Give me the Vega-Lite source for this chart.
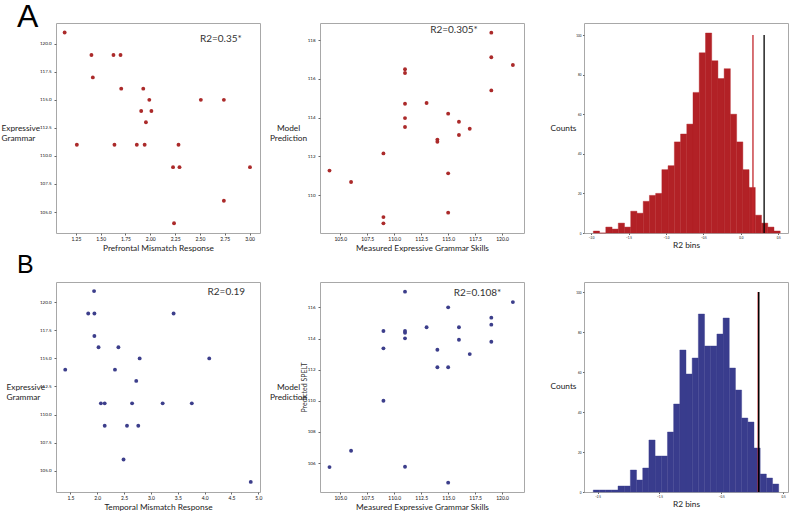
{
  "$schema": "https://vega.github.io/schema/vega-lite/v6.json",
  "background": "white",
  "padding": {"left": 0, "top": 0, "right": 0, "bottom": 0},
  "columns": 3,
  "bounds": "flush",
  "spacing": {"row": 49, "column": 60},
  "config": {
    "font": "Lato",
    "view": {"stroke": "#a8a8a8", "strokeWidth": 1},
    "axis": {"grid": false, "domain": false, "tickColor": "#666", "tickSize": 2, "labelFontSize": 5, "labelColor": "#111", "labelPadding": 1.5, "labelFont": "Lato", "titleFont": "Lato", "titleFontSize": 8.3, "titleFontWeight": "normal", "titleColor": "#222", "titlePadding": 1.5}
  },
  "datasets": {
    "a_prefrontal": [
      {"mismatch_response": 1.137, "expressive_grammar": 121},
      {"mismatch_response": 1.407, "expressive_grammar": 119},
      {"mismatch_response": 1.629, "expressive_grammar": 119},
      {"mismatch_response": 1.700, "expressive_grammar": 119},
      {"mismatch_response": 1.421, "expressive_grammar": 117},
      {"mismatch_response": 1.707, "expressive_grammar": 116},
      {"mismatch_response": 1.929, "expressive_grammar": 116},
      {"mismatch_response": 1.990, "expressive_grammar": 115},
      {"mismatch_response": 2.509, "expressive_grammar": 115},
      {"mismatch_response": 2.741, "expressive_grammar": 115},
      {"mismatch_response": 1.908, "expressive_grammar": 114},
      {"mismatch_response": 2.011, "expressive_grammar": 114},
      {"mismatch_response": 1.956, "expressive_grammar": 113},
      {"mismatch_response": 1.260, "expressive_grammar": 111},
      {"mismatch_response": 1.639, "expressive_grammar": 111},
      {"mismatch_response": 1.864, "expressive_grammar": 111},
      {"mismatch_response": 1.943, "expressive_grammar": 111},
      {"mismatch_response": 2.284, "expressive_grammar": 111},
      {"mismatch_response": 2.229, "expressive_grammar": 109},
      {"mismatch_response": 2.294, "expressive_grammar": 109},
      {"mismatch_response": 3.004, "expressive_grammar": 109},
      {"mismatch_response": 2.741, "expressive_grammar": 106},
      {"mismatch_response": 2.239, "expressive_grammar": 104}
    ],
    "a_prefrontal_note": [{"mismatch_response": 2.50, "expressive_grammar": 120.45, "label": "R2=0.35*"}],
    "b_temporal": [
      {"mismatch_response": 1.941, "expressive_grammar": 121},
      {"mismatch_response": 1.832, "expressive_grammar": 119},
      {"mismatch_response": 1.947, "expressive_grammar": 119},
      {"mismatch_response": 3.422, "expressive_grammar": 119},
      {"mismatch_response": 1.947, "expressive_grammar": 117},
      {"mismatch_response": 2.024, "expressive_grammar": 116},
      {"mismatch_response": 2.394, "expressive_grammar": 116},
      {"mismatch_response": 2.790, "expressive_grammar": 115},
      {"mismatch_response": 4.086, "expressive_grammar": 115},
      {"mismatch_response": 1.404, "expressive_grammar": 114},
      {"mismatch_response": 2.330, "expressive_grammar": 114},
      {"mismatch_response": 2.726, "expressive_grammar": 113},
      {"mismatch_response": 2.068, "expressive_grammar": 111},
      {"mismatch_response": 2.139, "expressive_grammar": 111},
      {"mismatch_response": 2.649, "expressive_grammar": 111},
      {"mismatch_response": 3.218, "expressive_grammar": 111},
      {"mismatch_response": 3.761, "expressive_grammar": 111},
      {"mismatch_response": 2.139, "expressive_grammar": 109},
      {"mismatch_response": 2.554, "expressive_grammar": 109},
      {"mismatch_response": 2.764, "expressive_grammar": 109},
      {"mismatch_response": 2.490, "expressive_grammar": 106},
      {"mismatch_response": 4.859, "expressive_grammar": 104}
    ],
    "b_temporal_note": [{"mismatch_response": 4.054, "expressive_grammar": 120.89, "label": "R2=0.19"}],
    "a_model": [
      {"measured": 104, "predicted": 111.26},
      {"measured": 106, "predicted": 110.67},
      {"measured": 109, "predicted": 112.15},
      {"measured": 109, "predicted": 108.86},
      {"measured": 109, "predicted": 108.54},
      {"measured": 111, "predicted": 116.49},
      {"measured": 111, "predicted": 116.30},
      {"measured": 111, "predicted": 114.71},
      {"measured": 111, "predicted": 113.97},
      {"measured": 111, "predicted": 113.51},
      {"measured": 113, "predicted": 114.75},
      {"measured": 114, "predicted": 112.86},
      {"measured": 114, "predicted": 112.75},
      {"measured": 115, "predicted": 114.20},
      {"measured": 115, "predicted": 111.12},
      {"measured": 115, "predicted": 109.09},
      {"measured": 116, "predicted": 113.78},
      {"measured": 116, "predicted": 113.10},
      {"measured": 117, "predicted": 113.42},
      {"measured": 119, "predicted": 118.38},
      {"measured": 119, "predicted": 117.11},
      {"measured": 119, "predicted": 115.40},
      {"measured": 121, "predicted": 116.71}
    ],
    "a_model_note": [{"measured": 113.33, "predicted": 118.5, "label": "R2=0.305*"}],
    "b_model": [
      {"measured": 104, "predicted": 105.74},
      {"measured": 106, "predicted": 106.79},
      {"measured": 109, "predicted": 114.48},
      {"measured": 109, "predicted": 113.37},
      {"measured": 109, "predicted": 110.00},
      {"measured": 111, "predicted": 117.01},
      {"measured": 111, "predicted": 114.48},
      {"measured": 111, "predicted": 114.37},
      {"measured": 111, "predicted": 114.01},
      {"measured": 111, "predicted": 105.76},
      {"measured": 113, "predicted": 114.72},
      {"measured": 114, "predicted": 113.28},
      {"measured": 114, "predicted": 112.15},
      {"measured": 115, "predicted": 116.00},
      {"measured": 115, "predicted": 112.15},
      {"measured": 115, "predicted": 104.74},
      {"measured": 116, "predicted": 114.72},
      {"measured": 116, "predicted": 113.92},
      {"measured": 117, "predicted": 113.00},
      {"measured": 119, "predicted": 115.34},
      {"measured": 119, "predicted": 114.89},
      {"measured": 119, "predicted": 113.79},
      {"measured": 121, "predicted": 116.34}
    ],
    "b_model_note": [{"measured": 115.51, "predicted": 116.92, "label": "R2=0.108*"}],
    "a_hist": [
      {"bin_start": -1.970, "bin_end": -1.887, "count": 1},
      {"bin_start": -1.887, "bin_end": -1.804, "count": 0},
      {"bin_start": -1.804, "bin_end": -1.720, "count": 3},
      {"bin_start": -1.720, "bin_end": -1.637, "count": 2},
      {"bin_start": -1.637, "bin_end": -1.554, "count": 5},
      {"bin_start": -1.554, "bin_end": -1.471, "count": 3},
      {"bin_start": -1.471, "bin_end": -1.388, "count": 11},
      {"bin_start": -1.388, "bin_end": -1.304, "count": 10},
      {"bin_start": -1.304, "bin_end": -1.221, "count": 16},
      {"bin_start": -1.221, "bin_end": -1.138, "count": 19},
      {"bin_start": -1.138, "bin_end": -1.055, "count": 20},
      {"bin_start": -1.055, "bin_end": -0.972, "count": 32},
      {"bin_start": -0.972, "bin_end": -0.888, "count": 34},
      {"bin_start": -0.888, "bin_end": -0.805, "count": 46},
      {"bin_start": -0.805, "bin_end": -0.722, "count": 50},
      {"bin_start": -0.722, "bin_end": -0.639, "count": 55},
      {"bin_start": -0.639, "bin_end": -0.556, "count": 71},
      {"bin_start": -0.556, "bin_end": -0.472, "count": 91},
      {"bin_start": -0.472, "bin_end": -0.389, "count": 101},
      {"bin_start": -0.389, "bin_end": -0.306, "count": 87},
      {"bin_start": -0.306, "bin_end": -0.223, "count": 78},
      {"bin_start": -0.223, "bin_end": -0.140, "count": 83},
      {"bin_start": -0.140, "bin_end": -0.056, "count": 60},
      {"bin_start": -0.056, "bin_end": 0.027, "count": 46},
      {"bin_start": 0.027, "bin_end": 0.110, "count": 32},
      {"bin_start": 0.110, "bin_end": 0.193, "count": 23},
      {"bin_start": 0.193, "bin_end": 0.276, "count": 9},
      {"bin_start": 0.276, "bin_end": 0.360, "count": 5},
      {"bin_start": 0.360, "bin_end": 0.443, "count": 3},
      {"bin_start": 0.443, "bin_end": 0.526, "count": 1}
    ],
    "a_lines": [{"kind": "threshold", "r2": 0.162}, {"kind": "observed", "r2": 0.311}],
    "b_hist": [
      {"bin_start": -2.57, "bin_end": -2.47, "count": 1},
      {"bin_start": -2.47, "bin_end": -2.37, "count": 1},
      {"bin_start": -2.37, "bin_end": -2.27, "count": 1},
      {"bin_start": -2.27, "bin_end": -2.17, "count": 1},
      {"bin_start": -2.17, "bin_end": -2.07, "count": 3},
      {"bin_start": -2.07, "bin_end": -1.97, "count": 3},
      {"bin_start": -1.97, "bin_end": -1.87, "count": 11},
      {"bin_start": -1.87, "bin_end": -1.77, "count": 6},
      {"bin_start": -1.77, "bin_end": -1.67, "count": 12},
      {"bin_start": -1.67, "bin_end": -1.57, "count": 26},
      {"bin_start": -1.57, "bin_end": -1.47, "count": 18},
      {"bin_start": -1.47, "bin_end": -1.37, "count": 18},
      {"bin_start": -1.37, "bin_end": -1.27, "count": 30},
      {"bin_start": -1.27, "bin_end": -1.17, "count": 44},
      {"bin_start": -1.17, "bin_end": -1.07, "count": 71},
      {"bin_start": -1.07, "bin_end": -0.97, "count": 59},
      {"bin_start": -0.97, "bin_end": -0.87, "count": 67},
      {"bin_start": -0.87, "bin_end": -0.77, "count": 89},
      {"bin_start": -0.77, "bin_end": -0.67, "count": 73},
      {"bin_start": -0.67, "bin_end": -0.57, "count": 73},
      {"bin_start": -0.57, "bin_end": -0.47, "count": 79},
      {"bin_start": -0.47, "bin_end": -0.37, "count": 87},
      {"bin_start": -0.37, "bin_end": -0.27, "count": 62},
      {"bin_start": -0.27, "bin_end": -0.17, "count": 51},
      {"bin_start": -0.17, "bin_end": -0.07, "count": 37},
      {"bin_start": -0.07, "bin_end": 0.03, "count": 35},
      {"bin_start": 0.03, "bin_end": 0.13, "count": 22},
      {"bin_start": 0.13, "bin_end": 0.23, "count": 9},
      {"bin_start": 0.23, "bin_end": 0.33, "count": 7},
      {"bin_start": 0.33, "bin_end": 0.43, "count": 4}
    ],
    "b_lines": [{"kind": "threshold", "r2": 0.099}, {"kind": "observed", "r2": 0.107}]
  },
  "concat": [
    {
      "width": 204, "height": 210,
      "title": {"text": "A", "fontSize": 32, "font": "Liberation Sans", "fontWeight": "normal", "color": "#000", "anchor": "start", "frame": "group", "dx": -39, "offset": -36, "baseline": "alphabetic"},
      "encoding": {
        "x": {"field": "mismatch_response", "type": "quantitative", "scale": {"domain": [1.05, 3.105], "nice": false, "zero": false},
              "axis": {"title": "Prefrontal Mismatch Response", "values": [1.25, 1.5, 1.75, 2.0, 2.25, 2.5, 2.75, 3.0], "format": ".2f"}},
        "y": {"field": "expressive_grammar", "type": "quantitative", "scale": {"domain": [103.13, 121.85], "nice": false, "zero": false},
              "axis": {"title": ["Expressive", "Grammar"], "values": [105, 107.5, 110, 112.5, 115, 117.5, 120], "format": ".1f", "labelFontSize": 4.5, "labelPadding": 3, "titleAngle": 0, "titleAlign": "left", "titleBaseline": "middle", "titleX": -55, "titleY": 105, "titleLineHeight": 10}}
      },
      "layer": [
        {"data": {"name": "a_prefrontal"}, "mark": {"type": "circle", "size": 15, "color": "#ab2a2a", "opacity": 1}},
        {"data": {"name": "a_prefrontal_note"}, "mark": {"type": "text", "align": "left", "baseline": "middle", "fontSize": 10, "color": "#333"}, "encoding": {"text": {"field": "label"}}}
      ]
    },
    {
      "width": 204, "height": 210,
      "encoding": {
        "x": {"field": "measured", "type": "quantitative", "scale": {"domain": [103.12, 122.03], "nice": false, "zero": false},
              "axis": {"title": "Measured Expressive Grammar Skills", "values": [105, 107.5, 110, 112.5, 115, 117.5, 120], "format": ".1f"}},
        "y": {"field": "predicted", "type": "quantitative", "scale": {"domain": [108.04, 118.88], "nice": false, "zero": false},
              "axis": {"title": ["Model", "Prediction"], "values": [110, 112, 114, 116, 118], "format": "d", "labelFontSize": 4.5, "labelPadding": 3, "titleAngle": 0, "titleAlign": "center", "titleBaseline": "middle", "titleX": -32, "titleY": 105, "titleLineHeight": 10}}
      },
      "layer": [
        {"data": {"name": "a_model"}, "mark": {"type": "circle", "size": 15, "color": "#ab2a2a", "opacity": 1}},
        {"data": {"name": "a_model_note"}, "mark": {"type": "text", "align": "left", "baseline": "middle", "fontSize": 10, "color": "#333"}, "encoding": {"text": {"field": "label"}}}
      ]
    },
    {
      "width": 204, "height": 210,
      "layer": [
        {"data": {"name": "a_hist"}, "mark": {"type": "bar", "color": "#b22126", "binSpacing": 0, "stroke": "#b22126", "strokeWidth": 0.4},
         "encoding": {
           "x": {"field": "bin_start", "type": "quantitative", "scale": {"domain": [-2.095, 0.63], "nice": false, "zero": false},
                 "axis": {"title": "R2 bins", "values": [-2.0, -1.5, -1.0, -0.5, 0.0, 0.5], "format": ".1f", "labelFontSize": 3, "tickSize": 1.5}},
           "x2": {"field": "bin_end"},
           "y": {"field": "count", "type": "quantitative", "scale": {"domain": [0, 106.05], "nice": false},
                 "axis": {"title": "Counts", "values": [0, 20, 40, 60, 80, 100], "labelFontSize": 3, "tickSize": 1.5, "titleAngle": 0, "titleAlign": "center", "titleBaseline": "middle", "titleX": -21, "titleY": 105}},
           "y2": {"datum": 0}
         }},
        {"data": {"name": "a_lines"}, "mark": {"type": "rule", "strokeWidth": 1.3},
         "encoding": {
           "x": {"field": "r2", "type": "quantitative", "axis": {"title": "R2 bins"}},
           "y": {"datum": 0},
           "y2": {"datum": 100},
           "color": {"field": "kind", "type": "nominal", "scale": {"domain": ["threshold", "observed"], "range": ["#c2272d", "#000000"]}, "legend": null}
         }}
      ]
    },
    {
      "width": 204, "height": 210,
      "title": {"text": "B", "fontSize": 25, "font": "Liberation Sans", "fontWeight": "normal", "color": "#000", "anchor": "start", "frame": "group", "dx": -39, "offset": -16, "baseline": "alphabetic"},
      "encoding": {
        "x": {"field": "mismatch_response", "type": "quantitative", "scale": {"domain": [1.232, 5.031], "nice": false, "zero": false},
              "axis": {"title": "Temporal Mismatch Response", "values": [1.5, 2.0, 2.5, 3.0, 3.5, 4.0, 4.5, 5.0], "format": ".1f"}},
        "y": {"field": "expressive_grammar", "type": "quantitative", "scale": {"domain": [103.1, 121.81], "nice": false, "zero": false},
              "axis": {"title": ["Expressive", "Grammar"], "values": [105, 107.5, 110, 112.5, 115, 117.5, 120], "format": ".1f", "labelFontSize": 4.5, "labelPadding": 3, "titleAngle": 0, "titleAlign": "left", "titleBaseline": "middle", "titleX": -50, "titleY": 105, "titleLineHeight": 10}}
      },
      "layer": [
        {"data": {"name": "b_temporal"}, "mark": {"type": "circle", "size": 15, "color": "#3c3e8b", "opacity": 1}},
        {"data": {"name": "b_temporal_note"}, "mark": {"type": "text", "align": "left", "baseline": "middle", "fontSize": 10, "color": "#333"}, "encoding": {"text": {"field": "label"}}}
      ]
    },
    {
      "width": 204, "height": 210,
      "resolve": {"axis": {"y": "independent"}},
      "encoding": {
        "x": {"field": "measured", "type": "quantitative", "scale": {"domain": [103.12, 122.03], "nice": false, "zero": false},
              "axis": {"title": "Measured Expressive Grammar Skills", "values": [105, 107.5, 110, 112.5, 115, 117.5, 120], "format": ".1f"}}
      },
      "layer": [
        {"data": {"name": "b_model"}, "mark": {"type": "circle", "size": 15, "color": "#3c3e8b", "opacity": 1},
         "encoding": {
           "y": {"field": "predicted", "type": "quantitative", "scale": {"domain": [104.14, 117.63], "nice": false, "zero": false},
                 "axis": {"title": ["Model", "Prediction"], "values": [106, 108, 110, 112, 114, 116], "format": "d", "labelFontSize": 4.5, "labelPadding": 3, "titleAngle": 0, "titleAlign": "center", "titleBaseline": "middle", "titleX": -32, "titleY": 105, "titleLineHeight": 10}}
         }},
        {"data": {"name": "b_model_note"}, "mark": {"type": "text", "align": "left", "baseline": "middle", "fontSize": 10, "color": "#333"},
         "encoding": {
           "text": {"field": "label"},
           "y": {"field": "predicted", "type": "quantitative",
                 "axis": {"orient": "left", "title": "Predicted SPELT", "labels": false, "ticks": false, "domain": false, "titleFontSize": 7, "titleAngle": 270, "titleAlign": "center", "titleBaseline": "middle", "titleX": -16, "titleY": 105, "titleColor": "#333"}}
         }}
      ]
    },
    {
      "width": 204, "height": 210,
      "layer": [
        {"data": {"name": "b_hist"}, "mark": {"type": "bar", "color": "#393c8d", "binSpacing": 0, "stroke": "#393c8d", "strokeWidth": 0.4},
         "encoding": {
           "x": {"field": "bin_start", "type": "quantitative", "scale": {"domain": [-2.72, 0.58], "nice": false, "zero": false},
                 "axis": {"title": "R2 bins", "values": [-2.5, -2.0, -1.5, -1.0, -0.5, 0.0, 0.5], "format": ".1f", "labelFontSize": 3, "tickSize": 1.5}},
           "x2": {"field": "bin_end"},
           "y": {"field": "count", "type": "quantitative", "scale": {"domain": [0, 105], "nice": false},
                 "axis": {"title": "Counts", "values": [0, 20, 40, 60, 80, 100], "labelFontSize": 3, "tickSize": 1.5, "titleAngle": 0, "titleAlign": "center", "titleBaseline": "middle", "titleX": -21, "titleY": 104}},
           "y2": {"datum": 0}
         }},
        {"data": {"name": "b_lines"}, "mark": {"type": "rule", "strokeWidth": 1.5},
         "encoding": {
           "x": {"field": "r2", "type": "quantitative", "axis": {"title": "R2 bins"}},
           "y": {"datum": 0},
           "y2": {"datum": 100},
           "color": {"field": "kind", "type": "nominal", "scale": {"domain": ["threshold", "observed"], "range": ["#b3232a", "#1a0a0a"]}, "legend": null}
         }}
      ]
    }
  ]
}
